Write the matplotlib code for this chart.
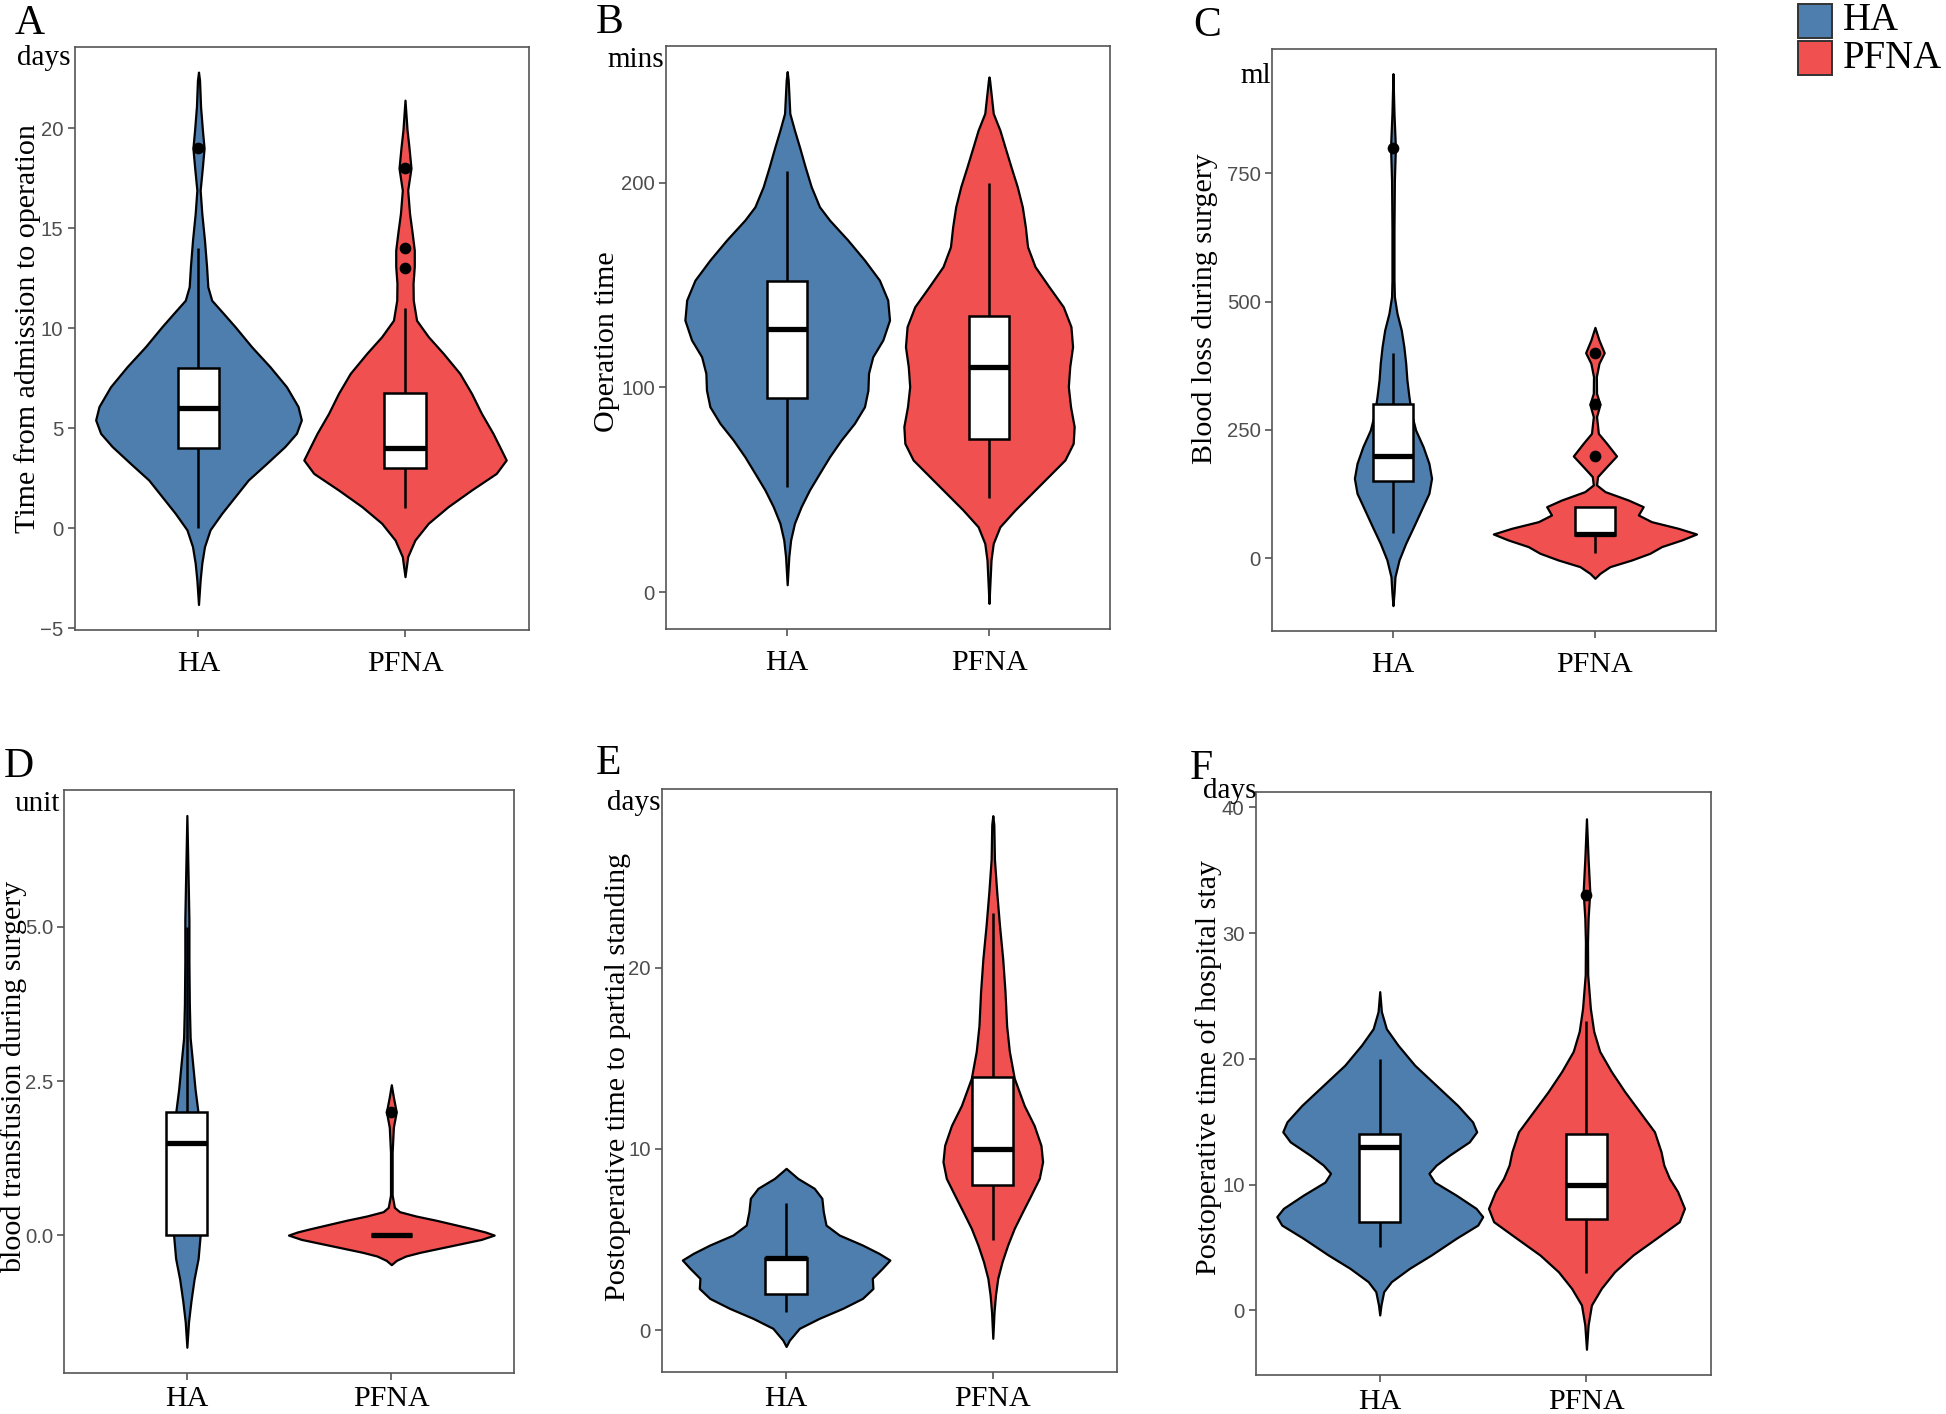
import numpy as np
import matplotlib.pyplot as plt
from matplotlib.patches import Rectangle

W, H = 1946, 1414
SERIF = "Liberation Serif"
SANS = "Liberation Sans"

groups = ["HA", "PFNA"]
colors = ["#4E7EAE", "#F05050"]

# violin outlines: y values and half widths (x units)
a_ha_y = [22.8, 22.4, 21.07, 19.9, 19.0, 18.07, 16.9, 15.74, 14.4, 13.1, 12.08, 11.4, 10.75, 10.08, 9.08, 8.08, 7.08, 6.09, 5.42, 4.75, 4.09, 3.25, 2.42, 1.59, 0.76, -0.07, -0.91, -1.74, -2.57, -3.8]
a_ha_w = [0, .005, .01, .019, .027, .019, .008, .016, .029, .039, .045, .064, .12, .177, .257, .346, .426, .482, .498, .474, .418, .33, .241, .177, .113, .056, .029, .016, .008, 0]
a_pf_y = [21.4, 19.9, 19.07, 18.0, 16.9, 15.74, 14.74, 13.9, 13.1, 12.25, 11.4, 10.4, 9.58, 8.75, 7.75, 6.75, 5.75, 4.75, 4.09, 3.42, 2.75, 1.92, 1.09, 0.26, -0.58, -1.41, -2.41]
a_pf_w = [0, .01, .019, .029, .013, .022, .035, .045, .045, .039, .04, .056, .113, .185, .265, .322, .37, .426, .458, .49, .442, .322, .209, .113, .048, .013, 0]

b_ha_y = [254.2, 250, 233.8, 225.6, 217.4, 207.7, 198, 188.2, 181.7, 172, 162.2, 152.4, 142.7, 132.9, 123.2, 115, 106.9, 98.7, 90.6, 82.5, 74.3, 66.2, 58.1, 49.9, 41.8, 33.7, 25.5, 17.4, 3.7]
b_ha_w = [0, .005, .013, .036, .061, .089, .119, .16, .21, .30, .383, .457, .498, .507, .474, .424, .403, .4, .383, .333, .267, .21, .16, .11, .069, .036, .017, .008, 0]
b_pf_y = [251.6, 250, 233.8, 225.6, 217.4, 207.7, 198, 188.2, 178.5, 168.7, 159, 149.2, 139.4, 129.7, 119.9, 110.1, 100.4, 90.6, 80.9, 72.7, 64.6, 56.5, 48.3, 40.2, 32, 23.9, 15.8, 1.1, -5.4]
b_pf_w = [0, .003, .021, .054, .079, .109, .14, .165, .18, .191, .228, .297, .368, .406, .414, .4, .393, .404, .422, .417, .376, .294, .211, .129, .054, .021, .01, .003, 0]

c_ha_y = [943.8, 866.6, 800, 736.8, 639.5, 542, 509.5, 477, 444.6, 412, 379.9, 347.4, 315, 282.5, 250, 217.6, 185, 156, 126.7, 94.3, 61.8, 29.3, -3.1, -35.6, -68, -92]
c_ha_w = [0, .005, .012, .007, .005, .005, .007, .02, .041, .054, .063, .069, .079, .091, .112, .149, .178, .191, .178, .14, .102, .063, .03, .01, .005, 0]
c_pf_y = [449.8, 425.1, 400.5, 379.7, 353.7, 321.3, 299.9, 275.9, 243.4, 224, 199.4, 178.6, 159.2, 143, 130, 113.7, 100.7, 84.5, 71.5, 58.5, 47.5, 35.8, 22.9, 9.9, -3.1, -16.1, -29.1, -38.8]
c_pf_w = [0, .02, .046, .02, .007, .008, .025, .008, .017, .058, .107, .058, .013, .008, .05, .165, .239, .215, .28, .413, .503, .429, .33, .272, .182, .074, .025, 0]

d_ha_y = [6.81, 5.81, 5.12, 4.44, 3.75, 3.2, 2.79, 2.37, 2.03, 1.55, 1.0, 0.31, 0, -0.38, -0.72, -1.07, -1.41, -1.82]
d_ha_w = [0, .006, .01, .01, .012, .016, .028, .04, .053, .061, .065, .065, .065, .055, .035, .02, .008, 0]
d_pf_y = [2.44, 2.24, 2.0, 1.75, 1.34, 0.65, 0.45, 0.38, 0.31, 0.24, 0.17, 0.1, 0.05, 0, -0.07, -0.14, -0.21, -0.28, -0.34, -0.41, -0.48]
d_pf_w = [0, .01, .024, .01, .004, .004, .015, .04, .12, .22, .31, .4, .46, .503, .44, .34, .24, .14, .07, .025, 0]

e_ha_y = [8.93, 8.38, 7.83, 7.28, 6.54, 5.8, 5.25, 4.7, 4.24, 3.87, 3.41, 2.86, 2.3, 1.75, 1.2, 0.65, 0.1, -0.55, -0.9]
e_ha_w = [0, .056, .136, .173, .18, .193, .257, .369, .449, .502, .465, .417, .42, .369, .273, .16, .064, .016, 0]
e_pf_y = [28.4, 27.9, 26.0, 24.2, 22.4, 20.5, 18.7, 16.8, 15.4, 13.9, 12.4, 11.3, 10.2, 9.3, 8.38, 7.46, 6.54, 5.62, 4.7, 3.78, 2.86, 1.94, 1.0, -0.45]
e_pf_w = [0, .005, .008, .019, .032, .048, .059, .067, .08, .104, .152, .2, .233, .241, .225, .185, .144, .104, .072, .045, .024, .013, .006, 0]

f_ha_y = [25.35, 23.76, 22.4, 21.1, 19.5, 17.9, 16.3, 14.99, 14.2, 13.4, 12.34, 11.55, 10.9, 10.2, 9.17, 8.11, 7.45, 6.78, 5.72, 4.4, 3.34, 2.28, 1.48, 0.42, -0.37]
f_ha_w = [0, .008, .032, .088, .169, .273, .377, .449, .469, .433, .337, .273, .238, .265, .369, .466, .498, .474, .369, .249, .144, .056, .019, .006, 0]
f_pf_y = [39.1, 35.9, 33.3, 31.2, 29.3, 26.7, 24.0, 22.2, 20.6, 19.0, 17.4, 15.8, 14.2, 12.6, 11.56, 10.5, 9.44, 8.11, 7.05, 5.72, 4.4, 3.07, 1.75, 0.42, -1.17, -3.1]
f_pf_w = [0, .008, .016, .008, .005, .006, .019, .035, .064, .12, .185, .257, .329, .361, .374, .401, .441, .474, .449, .337, .225, .136, .072, .024, .008, 0]

# box plot statistics [HA, PFNA]
a_q1, a_med, a_q3, a_lo, a_hi = [4, 3], [6, 4], [8, 6.75], [0, 1], [14, 11]
b_q1, b_med, b_q3, b_lo, b_hi = [95, 75], [128.4, 110], [151.8, 134.7], [51.2, 45.9], [205.8, 199.6]
c_q1, c_med, c_q3, c_lo, c_hi = [150, 46], [200, 48], [300, 100], [50, 10], [400, 100]
d_q1, d_med, d_q3, d_lo, d_hi = [0, 0], [1.5, 0], [2, 0], [0, 0], [5, 0]
e_q1, e_med, e_q3, e_lo, e_hi = [2, 8], [4, 10], [4, 14], [1, 5], [7, 23]
f_q1, f_med, f_q3, f_lo, f_hi = [7, 7.3], [13, 10], [14, 14], [5, 3], [20, 23]

a_out = [[19], [13, 14, 18]]
b_out = [[], []]
c_out = [[800], [200, 300, 400]]
d_out = [[], [2]]
e_out = [[], []]
f_out = [[], [33]]

a_ticks = [-5, 0, 5, 10, 15, 20]
b_ticks = [0, 100, 200]
c_ticks = [0, 250, 500, 750]
d_ticks = [0.0, 2.5, 5.0]
e_ticks = [0, 10, 20]
f_ticks = [0, 10, 20, 30, 40]

panels = [
    dict(letter="A", unit="days", label="Time from admission to operation",
         violins=[(a_ha_y, a_ha_w), (a_pf_y, a_pf_w)],
         box=(a_q1, a_med, a_q3, a_lo, a_hi), out=a_out, ticks=a_ticks, fmt="{:g}",
         ylim=(-5.09, 24.06), rect=(74.6, 46.9, 528.9, 630.3), xpad=5,
         letter_xy=(14.5, 33.5), unit_xy=(70.5, 64.7), label_xy=(27.6, 329)),
    dict(letter="B", unit="mins", label="Operation time",
         violins=[(b_ha_y, b_ha_w), (b_pf_y, b_pf_w)],
         box=(b_q1, b_med, b_q3, b_lo, b_hi), out=b_out, ticks=b_ticks, fmt="{:g}",
         ylim=(-18.1, 266.7), rect=(666.1, 46.0, 1110.1, 629.4), xpad=5,
         letter_xy=(596, 33), unit_xy=(664, 67), label_xy=(606.5, 341.5)),
    dict(letter="C", unit="ml", label="Blood loss during surgery",
         violins=[(c_ha_y, c_ha_w), (c_pf_y, c_pf_w)],
         box=(c_q1, c_med, c_q3, c_lo, c_hi), out=c_out, ticks=c_ticks, fmt="{:g}",
         ylim=(-141, 991.6), rect=(1271.8, 49.1, 1716.1, 630.8), xpad=5,
         letter_xy=(1193, 36), unit_xy=(1271, 82.6), label_xy=(1204.6, 309)),
    dict(letter="D", unit="unit", label="blood transfusion during surgery",
         violins=[(d_ha_y, d_ha_w), (d_pf_y, d_pf_w)],
         box=(d_q1, d_med, d_q3, d_lo, d_hi), out=d_out, ticks=d_ticks, fmt="{:.1f}",
         ylim=(-2.23, 7.22), rect=(64.2, 790.2, 514.0, 1372.5), xpad=2.5,
         letter_xy=(4, 777), unit_xy=(60, 810.6), label_xy=(13.5, 1077)),
    dict(letter="E", unit="days", label="Postoperative time to partial standing",
         violins=[(e_ha_y, e_ha_w), (e_pf_y, e_pf_w)],
         box=(e_q1, e_med, e_q3, e_lo, e_hi), out=e_out, ticks=e_ticks, fmt="{:g}",
         ylim=(-2.30, 29.85), rect=(662.1, 789.4, 1116.8, 1371.8), xpad=2.5,
         letter_xy=(596, 774), unit_xy=(660, 809.6), label_xy=(618.4, 1077)),
    dict(letter="F", unit="days", label="Postoperative time of hospital stay",
         violins=[(f_ha_y, f_ha_w), (f_pf_y, f_pf_w)],
         box=(f_q1, f_med, f_q3, f_lo, f_hi), out=f_out, ticks=f_ticks, fmt="{:g}",
         ylim=(-5.13, 41.2), rect=(1255.7, 792.4, 1710.5, 1374.8), xpad=2.5,
         letter_xy=(1190, 779), unit_xy=(1256, 798), label_xy=(1209, 1067.6)),
]


def fx(x):
    return x / W


def fy(y):
    return 1 - y / H


fig = plt.figure(figsize=(W / 200, H / 200), dpi=200)

for p in panels:
    l, t, r, b = p["rect"]
    ax = fig.add_axes([fx(l), fy(b), (r - l) / W, (b - t) / H])
    q1, med, q3, lo, hi = p["box"]
    for i, (vy, vw) in enumerate(p["violins"]):
        c = i + 1
        vy = np.array(vy)
        vw = np.array(vw)
        ax.fill_betweenx(vy, c - vw, c + vw, facecolor=colors[i],
                         edgecolor="black", linewidth=0.8, joinstyle="round",
                         zorder=1)
        ax.vlines(c, lo[i], hi[i], color="black", linewidth=0.9, zorder=2)
        ax.add_patch(Rectangle((c - 0.1, q1[i]), 0.2, q3[i] - q1[i],
                               facecolor="white", edgecolor="black",
                               linewidth=0.9, zorder=3))
        ax.hlines(med[i], c - 0.1, c + 0.1, color="black", linewidth=1.9, zorder=4)
        if p["out"][i]:
            ax.plot([c] * len(p["out"][i]), p["out"][i], "o", color="black",
                    markersize=3.2, zorder=5)

    ax.set_xlim(0.4, 2.6)
    ax.set_ylim(*p["ylim"])
    ax.set_xticks([1, 2])
    ax.set_xticklabels(groups, fontfamily=SERIF, fontsize=10.8, color="black")
    ax.set_yticks(p["ticks"])
    ax.set_yticklabels([p["fmt"].format(v).replace("-", "\u2212") for v in p["ticks"]],
                       fontfamily=SANS, fontsize=7.3, color="#4D4D4D")
    ax.tick_params(axis="y", length=2.5, width=0.6, color="#555555", pad=1.5)
    ax.tick_params(axis="x", length=2.5, width=0.6, color="#555555", pad=p["xpad"])
    for s in ax.spines.values():
        s.set_color("#555555")
        s.set_linewidth(0.6)

    fig.text(fx(p["letter_xy"][0]), fy(p["letter_xy"][1]), p["letter"],
             fontfamily=SERIF, fontsize=15, ha="left", va="baseline")
    fig.text(fx(p["unit_xy"][0]), fy(p["unit_xy"][1]), p["unit"],
             fontfamily=SERIF, fontsize=10.5, ha="right", va="baseline")
    fig.text(fx(p["label_xy"][0]), fy(p["label_xy"][1]), p["label"],
             fontfamily=SERIF, fontsize=10.8, rotation=90, ha="center", va="center")

# legend
for i, g in enumerate(groups):
    y0 = 3.6 + i * 37.5
    fig.add_artist(Rectangle((fx(1798), fy(y0 + 34)), 34 / W, 34 / H,
                             transform=fig.transFigure, facecolor=colors[i],
                             edgecolor="#333333", linewidth=0.7))
    fig.text(fx(1843), fy(y0 + 17), g, fontfamily=SERIF, fontsize=14,
             ha="left", va="center")

fig.savefig("out.png", dpi=200)
